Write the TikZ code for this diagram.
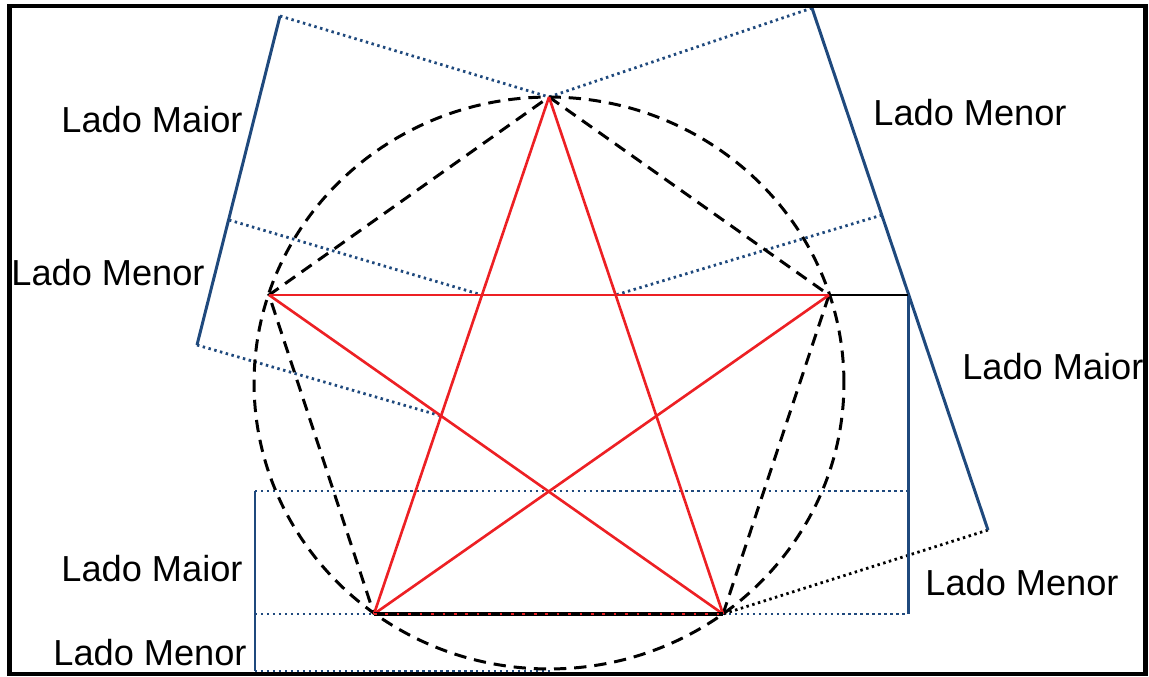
\documentclass[tikz,border=0pt]{standalone}
\usepackage{fontspec}
\setmainfont{Liberation Sans}
\usetikzlibrary{positioning}
\definecolor{ladoblue}{RGB}{31,73,125}
\definecolor{starred}{RGB}{237,32,36}
\begin{document}
\begin{tikzpicture}[x=0.02cm, y=-0.02cm,
    lbl/.style={font=\fontsize{20.6}{24}\selectfont, inner sep=0pt},
    side/.style={draw=ladoblue, line width=1.7pt},
    proj/.style={draw=ladoblue, line width=1.6pt, dash pattern=on 1.4pt off 2pt},
    blackproj/.style={draw=black, line width=1.6pt, dash pattern=on 1.4pt off 2pt},
    guide/.style={draw=black, line width=1.7pt, dash pattern=on 7pt off 4.5pt},
    star/.style={draw=starred, line width=1.5pt}
]
\useasboundingbox (0,0) rectangle (1149,676);

\coordinate (A) at (549,97);
\coordinate (B) at (269,295);
\coordinate (E) at (829,295);
\coordinate (C) at (374,614);
\coordinate (D) at (723,614);
\coordinate (O) at (549,383);
\coordinate (P1) at (intersection of A--C and B--E);
\coordinate (P2) at (intersection of A--D and B--E);
\coordinate (P3) at (intersection of A--C and B--D);

\coordinate (tl1) at (280,16);
\coordinate (tl2) at (229,220);
\coordinate (tl3) at (197,345);
\coordinate (tr1) at (812,8);
\coordinate (tr2) at (882,215);
\coordinate (tr3) at (908,295);
\coordinate (tr4) at (988,530);
\coordinate (r2) at (908,491);
\coordinate (r3) at (908,614);
\coordinate (l1) at (255,491);
\coordinate (l2) at (255,614);
\coordinate (l3) at (255,671);
\coordinate (l4) at (550,671);

\draw[proj] (tl1) -- (A);
\draw[proj] (tl2) -- (P1);
\draw[proj] (tl3) -- (P3);
\draw[proj] (tr1) -- (A);
\draw[proj] (tr2) -- (P2);
\draw[proj] (l1) -- (r2);
\draw[proj] (l2) -- (C);
\draw[proj] (D) -- (r3);
\draw[proj] (l3) -- (l4);
\draw[blackproj] (tr4) -- (D);

\draw[side] (tl1) -- (tl3);
\draw[side] (tr1) -- (tr4);
\draw[side] (tr3) -- (r3);
\draw[side] (l1) -- (l3);
\draw[black, line width=1.6pt] (E) -- (tr3);

\draw[guide] (O) ellipse [x radius=5.9cm, y radius=5.72cm];
\draw[guide] (D) -- (E) -- (A) -- (B) -- (C);

\draw[star] (A) -- (C);
\draw[star] (A) -- (D);
\draw[star] (B) -- (E);
\draw[star] (B) -- (D);
\draw[star] (E) -- (C);
\draw[black, line width=2pt] (C) -- (D);
\draw[starred, line width=1.4pt, dash pattern=on 1.5pt off 5pt] (C) -- (D);

\node[lbl] (maior1) at (152,120) {Lado Maior};
\node[lbl] (menor1) at (108,273) {Lado Menor};
\node[lbl] (menor2) at (970,113) {Lado Menor};
\node[lbl, anchor=west] (maior2) at (962,367) {Lado Maior};
\node[lbl] (maior3) at (152,569) {Lado Maior};
\node[lbl] (menor3) at (1022,583) {Lado Menor};
\node[lbl] (menor4) at (150,653) {Lado Menor};

\draw[line width=2.8pt] (9.5,6) rectangle (1145.5,674);
\end{tikzpicture}
\end{document}
